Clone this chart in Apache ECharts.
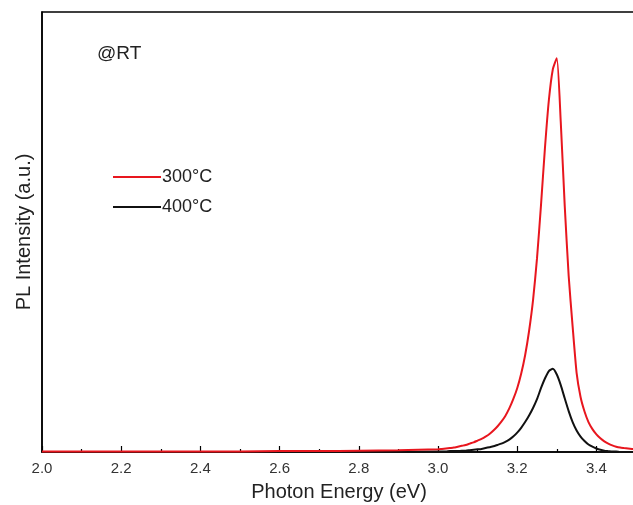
<!DOCTYPE html>
<html>
<head>
<meta charset="utf-8">
<script src="https://cdn.jsdelivr.net/npm/echarts@6/dist/echarts.min.js"></script>
<style>
  html, body { margin: 0; padding: 0; background: #fff; }
  #Chart { width: 633px; height: 505px; }
</style>
</head>
<body>
<div id="Chart"></div>
<script>
// photon energy (eV)
var energy = [2.0, 2.1, 2.2, 2.3, 2.4, 2.5, 2.6, 2.7, 2.8, 2.9,
    3.00, 3.01, 3.02, 3.03, 3.04, 3.05, 3.06, 3.07, 3.08, 3.09,
    3.10, 3.11, 3.12, 3.13, 3.14, 3.15, 3.16, 3.17, 3.18, 3.19,
    3.20, 3.21, 3.22, 3.23, 3.24, 3.25, 3.26, 3.27, 3.28, 3.29,
    3.30, 3.31, 3.32, 3.33, 3.34, 3.35, 3.36, 3.37, 3.38, 3.39,
    3.40, 3.41, 3.42, 3.43, 3.44, 3.45, 3.46, 3.47, 3.48, 3.49, 3.50];

// PL intensity, arbitrary units
var pl300 = [0.001, 0.001, 0.001, 0.001, 0.001, 0.001, 0.002, 0.002, 0.003, 0.004,
    0.006, 0.007, 0.008, 0.009, 0.010, 0.012, 0.014, 0.016, 0.019, 0.022,
    0.026, 0.030, 0.035, 0.041, 0.049, 0.058, 0.069, 0.082, 0.099, 0.120,
    0.145, 0.178, 0.220, 0.275, 0.345, 0.440, 0.560, 0.690, 0.800, 0.870,
    0.895, 0.750, 0.560, 0.400, 0.285, 0.180, 0.125, 0.092, 0.068, 0.052,
    0.040, 0.031, 0.024, 0.019, 0.015, 0.012, 0.010, 0.009, 0.008, 0.007, 0.006];

var pl400 = [0, 0, 0, 0, 0, 0, 0, 0, 0, 0,
    0.001, 0.001, 0.001, 0.002, 0.002, 0.002, 0.003, 0.003, 0.004, 0.005,
    0.006, 0.007, 0.009, 0.011, 0.013, 0.016, 0.019, 0.023, 0.028, 0.035,
    0.044, 0.055, 0.068, 0.083, 0.100, 0.120, 0.145, 0.167, 0.184, 0.189,
    0.176, 0.152, 0.122, 0.093, 0.068, 0.049, 0.035, 0.025, 0.017, 0.012,
    0.008, 0.005, 0.003, 0.002, 0.001, 0.001, 0, 0, 0, 0, 0];

var seriesNames = ['300\u00B0C', '400\u00B0C'];

function pairs(ys) {
    return energy.map(function (x, i) { return [x, ys[i]]; });
}

var Chart = echarts.init(document.getElementById('Chart'));

var font = '"Liberation Sans", Arial, sans-serif';

var option = {
    animation: false,
    backgroundColor: '#fff',
    grid: {
        show: true,
        borderColor: '#000',
        borderWidth: 1.5,
        left: 42,
        right: -3,
        top: 12,
        bottom: 53,
        outerBoundsMode: 'none',
        containLabel: false
    },
    legend: {
        orient: 'vertical',
        left: 108,
        top: 163,
        itemWidth: 48,
        itemHeight: 2,
        itemGap: 12,
        icon: 'rect',
        textStyle: { fontFamily: font, fontSize: 18, color: '#222', padding: [0, 0, 0, -4] },
        data: seriesNames
    },
    graphic: [{
        type: 'text',
        left: 97,
        top: 44,
        style: { text: '@RT', font: '19px ' + font, fill: '#222' }
    }],
    xAxis: {
        type: 'value',
        min: 2.0,
        max: 3.5,
        interval: 0.2,
        name: 'Photon Energy (eV)',
        nameLocation: 'middle',
        nameGap: 30,
        nameTextStyle: { fontFamily: font, fontSize: 20, color: '#222' },
        axisLine: { lineStyle: { color: '#000', width: 1.5 } },
        axisTick: { inside: true, length: 6, lineStyle: { color: '#000', width: 1.2 } },
        minorTick: { show: true, splitNumber: 2, length: 3, lineStyle: { color: '#000', width: 1.2 } },
        axisLabel: {
            margin: 9,
            fontFamily: font,
            fontSize: 15,
            color: '#333',
            showMaxLabel: false,
            formatter: function (v) { return v.toFixed(1); }
        },
        splitLine: { show: false }
    },
    yAxis: {
        type: 'value',
        min: 0,
        max: 1,
        name: 'PL Intensity (a.u.)',
        nameLocation: 'middle',
        nameGap: 8,
        nameTextStyle: { fontFamily: font, fontSize: 20, color: '#222' },
        axisLine: { show: true, lineStyle: { color: '#000', width: 1.5 } },
        axisTick: { show: false },
        axisLabel: { show: false },
        splitLine: { show: false }
    },
    series: [
        {
            name: seriesNames[1],
            type: 'line',
            data: pairs(pl400),
            smooth: 0.2,
            showSymbol: false,
            color: '#111',
            lineStyle: { color: '#111', width: 2 }
        },
        {
            name: seriesNames[0],
            type: 'line',
            data: pairs(pl300),
            smooth: 0.2,
            showSymbol: false,
            color: '#e8161e',
            lineStyle: { color: '#e8161e', width: 2 }
        }
    ]
};

Chart.setOption(option);
</script>
</body>
</html>
